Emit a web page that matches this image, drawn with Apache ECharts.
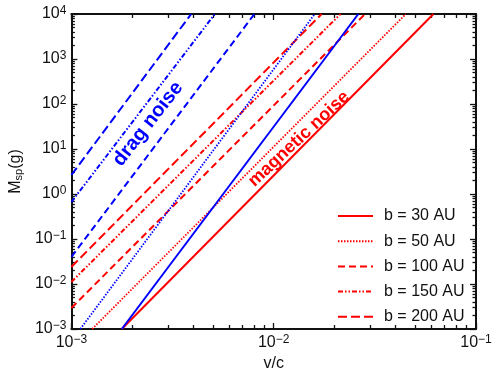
<!DOCTYPE html>
<html>
<head>
<meta charset="utf-8">
<script src="https://cdn.jsdelivr.net/npm/echarts@6/dist/echarts.min.js"></script>
<style>
html, body { margin: 0; padding: 0; background: #fff; }
#chart { width: 499px; height: 377px; }
</style>
</head>
<body>
<div id="chart"></div>
<script>
// impact parameter of each curve (AU)
const bValues = [30, 50, 100, 150, 200]
const lineTypes = ['solid', [1.5, 1.5], [7, 4], [5, 2, 1.5, 2, 1.5, 2], [9, 4]]

// curves read off where they enter / leave the plot box, [v/c, M_sp (g)]
// magnetic noise (red)
const magnetic30 = [[1.775e-3, 1e-3], [6.16e-2, 1e4]]
const magnetic50 = [[1.267e-3, 1e-3], [4.50e-2, 1e4]]
const magnetic100 = [[1e-3, 2.93e-3], [2.83e-2, 1e4]]
const magnetic150 = [[1e-3, 1.11e-2], [2.14e-2, 1e4]]
const magnetic200 = [[1e-3, 2.39e-2], [1.725e-2, 1e4]]
// drag noise (blue)
const drag30 = [[1.775e-3, 1e-3], [2.62e-2, 1e4]]
const drag50 = [[1.107e-3, 1e-3], [1.596e-2, 1e4]]
const drag100 = [[1e-3, 3.98e-2], [8.03e-3, 1e4]]
const drag150 = [[1e-3, 0.664], [5.12e-3, 1e4]]
const drag200 = [[1e-3, 2.64], [3.91e-3, 1e4]]

const magneticLines = [magnetic30, magnetic50, magnetic100, magnetic150, magnetic200]
const dragLines = [drag30, drag50, drag100, drag150, drag200]

// axis decades (as powers of ten)
const xExps = [-3, -2, -1]
const yExps = [-3, -2, -1, 0, 1, 2, 3, 4]

const FONT = '"Liberation Sans", Arial, Helvetica, sans-serif'
const RED = '#ff0000'
const BLUE = '#0000ff'
const INK = '#111'

//log10 of 2..9 times each decade, except the last one
function minorTicks(exps) {
    let out = []
    for (let i = 0; i < exps.length - 1; i++) {
        for (let k = 2; k <= 9; k++) {
            out.push(exps[i] + Math.log10(k))
        }
    }
    return out
}

function powLabel(v) {
    const e = Math.round(Math.log10(v))
    return '{b|10}{e|' + (e < 0 ? '\u2212' + (-e) : e) + '}'
}

const labelRich = {
    b: { fontSize: 16, fontFamily: FONT, color: INK },
    e: { fontSize: 12, fontFamily: FONT, color: INK, verticalAlign: 'top', padding: [0, 0, 6, 0] }
}

// the log axis carrying the data and labels
function dataAxis(position, exps) {
    return {
        type: 'log',
        logBase: 10,
        position: position,
        min: Math.pow(10, exps[0]),
        max: Math.pow(10, exps[exps.length - 1]),
        interval: 1,
        gridIndex: 0,
        splitLine: { show: false },
        axisLine: { show: true, onZero: false, lineStyle: { color: INK, width: 2 } },
        axisTick: { show: true, inside: true, length: 6, lineStyle: { color: INK, width: 1.3 } },
        axisLabel: { show: true, margin: 5, formatter: powLabel, rich: labelRich }
    }
}

// tick-only axes, linear in log10 space so they line up with the log axis
function tickAxis(position, exps, ticks, len, showLine) {
    return {
        type: 'value',
        position: position,
        min: exps[0],
        max: exps[exps.length - 1],
        gridIndex: 0,
        splitLine: { show: false },
        axisLine: { show: showLine, onZero: false, lineStyle: { color: INK, width: 2 } },
        axisTick: {
            show: true, inside: true, length: len, customValues: ticks,
            lineStyle: { color: INK, width: 1.3 }
        },
        axisLabel: { show: false }
    }
}

const xAxes = [
    dataAxis('bottom', xExps),
    tickAxis('bottom', xExps, minorTicks(xExps), 4, false),
    tickAxis('top', xExps, xExps, 6, true),
    tickAxis('top', xExps, minorTicks(xExps), 4, false)
]
xAxes[0].name = 'v/c'
xAxes[0].nameLocation = 'middle'
xAxes[0].nameGap = 26
xAxes[0].nameTextStyle = { fontSize: 16, fontFamily: FONT, color: INK }

const yAxes = [
    dataAxis('left', yExps),
    tickAxis('left', yExps, minorTicks(yExps), 3.5, false),
    tickAxis('right', yExps, yExps, 6, true),
    tickAxis('right', yExps, minorTicks(yExps), 3.5, false)
]
yAxes[0].name = '{m|M}{s|sp}{m|(g)}'
yAxes[0].nameLocation = 'middle'
yAxes[0].nameGap = 47
yAxes[0].nameTextStyle = {
    fontSize: 16, fontFamily: FONT, color: INK,
    rich: {
        m: { fontSize: 16, fontFamily: FONT, color: INK },
        s: { fontSize: 11, fontFamily: FONT, color: INK, verticalAlign: 'bottom' }
    }
}

const series = []
magneticLines.forEach((d, i) => {
    series.push({
        name: 'b = ' + bValues[i] + ' AU',
        type: 'line',
        data: d,
        symbol: 'none',
        clip: true,
        lineStyle: { color: RED, width: i === 1 ? 1.8 : 2, type: lineTypes[i] },
        itemStyle: { color: RED }
    })
})
dragLines.forEach((d, i) => {
    series.push({
        name: 'drag b = ' + bValues[i],
        type: 'line',
        data: d,
        symbol: 'none',
        clip: true,
        lineStyle: { color: BLUE, width: i === 1 ? 1.8 : 2, type: lineTypes[i] },
        itemStyle: { color: BLUE }
    })
})

const chart = echarts.init(document.getElementById('chart'), null, { renderer: 'canvas' })
chart.setOption({
    animation: false,
    backgroundColor: '#fff',
    grid: { left: 67, right: 23, top: 14, bottom: 48, containLabel: false },
    xAxis: xAxes,
    yAxis: yAxes,
    legend: {
        data: bValues.map(b => 'b = ' + b + ' AU'),
        orient: 'vertical',
        left: 332,
        top: 203,
        itemWidth: 35,
        itemHeight: 14,
        itemGap: 9.2,
        itemStyle: { color: 'rgba(0,0,0,0)', borderColor: 'rgba(0,0,0,0)', borderWidth: 0 },
        textStyle: { fontSize: 16, fontFamily: FONT, color: INK, padding: [0, 0, 0, 6] }
    },
    graphic: [
        {
            type: 'text', x: 148, y: 124, rotation: 52 * Math.PI / 180,
            style: {
                text: 'drag noise', fill: BLUE, font: 'bold 20px ' + FONT,
                align: 'center', verticalAlign: 'middle',
                textAlign: 'center', textVerticalAlign: 'middle'
            }
        },
        {
            type: 'text', x: 299, y: 139, rotation: 43 * Math.PI / 180,
            style: {
                text: 'magnetic noise', fill: RED, font: 'bold 18px ' + FONT,
                align: 'center', verticalAlign: 'middle',
                textAlign: 'center', textVerticalAlign: 'middle'
            }
        }
    ],
    series: series
})
</script>
</body>
</html>
